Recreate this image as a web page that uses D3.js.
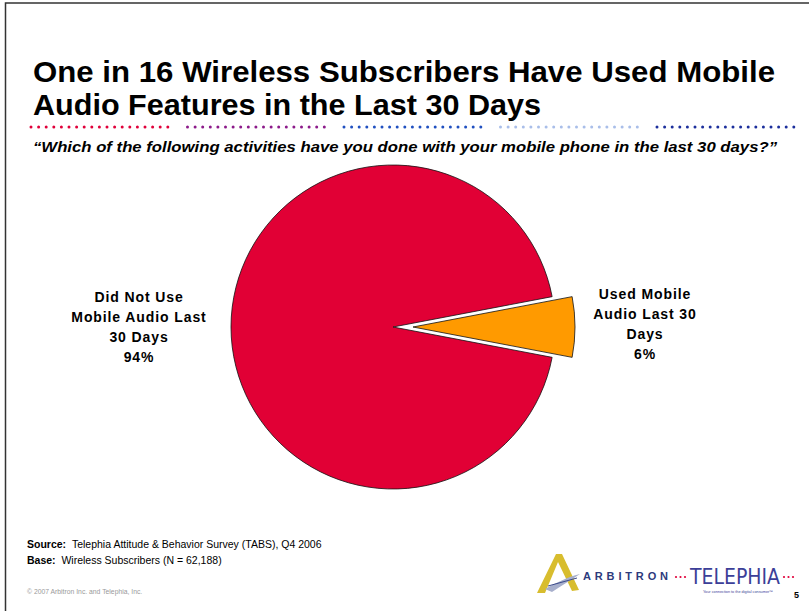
<!DOCTYPE html>
<html>
<head>
<meta charset="utf-8">
<script src="https://cdn.jsdelivr.net/npm/d3@7"></script>
<style>
  html, body { margin: 0; padding: 0; background: #fff; }
  svg { display: block; font-family: "Liberation Sans", Arial, sans-serif; }
</style>
</head>
<body>
<svg id="chart" width="809" height="611"></svg>
<script>
// Survey shares (percent of wireless subscribers)
const categories = ["Did Not Use Mobile Audio Last 30 Days", "Used Mobile Audio Last 30 Days"];
const values = [94, 6];
const sliceColors = ["#e10035", "#ff9a00"];
const labelLines = [
  ["Did Not Use", "Mobile Audio Last", "30 Days", "94%"],
  ["Used Mobile", "Audio Last 30", "Days", "6%"]
];
const titleLines = ["One in 16 Wireless Subscribers Have Used Mobile", "Audio Features in the Last 30 Days"];
const ruleColors = ["#e0003a", "#8c1a8a", "#2050c0", "#a9bee9", "#1c2f9c"];

const svg = d3.select("#chart");
const W = 809, H = 611;

svg.append("rect").attr("width", W).attr("height", H).attr("fill", "#fff");

// slide frame (left and top edges)
svg.append("path")
  .attr("d", `M5.5,${H} L5.5,3 L${W},3`)
  .attr("fill", "none").attr("stroke", "#333").attr("stroke-width", 1.5);

// title
const title = svg.append("g").attr("font-weight", "bold").attr("fill", "#000").attr("font-size", 29.5);
title.append("text").attr("x", 33).attr("y", 81.5)
  .attr("textLength", 742).attr("lengthAdjust", "spacingAndGlyphs")
  .text(titleLines[0]);
title.append("text").attr("x", 33).attr("y", 114.5)
  .attr("textLength", 508).attr("lengthAdjust", "spacingAndGlyphs")
  .text(titleLines[1]);

// dotted colour rule
const segW = 144, dotStep = 7.6;
ruleColors.forEach((c, i) => {
  const x0 = 31 + i * (segW + 12.5);
  const n = Math.floor(segW / dotStep) + 1;
  svg.append("g").selectAll("circle")
    .data(d3.range(n))
    .join("circle")
    .attr("cx", k => x0 + k * dotStep)
    .attr("cy", 127)
    .attr("r", 1.5)
    .attr("fill", c);
});

// question
svg.append("text")
  .attr("x", 33).attr("y", 152)
  .attr("font-size", 14).attr("font-weight", "bold").attr("font-style", "italic")
  .attr("textLength", 744).attr("lengthAdjust", "spacingAndGlyphs")
  .text("\u201CWhich of the following activities have you done with your mobile phone in the last 30 days?\u201D");

// pie
const cx = 393, cy = 327, R = 162, explode = 20;
const pie = d3.pie().sort(null).value(d => d)
  .startAngle(Math.PI / 2 + Math.PI * values[1] / 100)
  .endAngle(Math.PI / 2 + Math.PI * values[1] / 100 + 2 * Math.PI);
const arc = d3.arc().innerRadius(0).outerRadius(R);
const arcs = pie(values);

const pg = svg.append("g").attr("transform", `translate(${cx},${cy})`);
pg.selectAll("path")
  .data(arcs)
  .join("path")
  .attr("d", arc)
  .attr("fill", (d, i) => sliceColors[i])
  .attr("stroke", "#111")
  .attr("stroke-width", 0.8)
  .attr("transform", (d, i) => {
    if (i !== 1) return null;
    const a = (d.startAngle + d.endAngle) / 2;
    return `translate(${explode * Math.sin(a)},${-explode * Math.cos(a)})`;
  });

// slice labels
const labelPos = [[139, 302], [645, 299]];
labelLines.forEach((lines, i) => {
  const t = svg.append("text")
    .attr("text-anchor", "middle")
    .attr("font-size", 14).attr("font-weight", "bold")
    .attr("letter-spacing", 0.9)
    .attr("fill", "#000");
  lines.forEach((s, j) => {
    t.append("tspan").attr("x", labelPos[i][0]).attr("y", labelPos[i][1] + j * 20).text(s);
  });
});

// source notes
const notes = svg.append("g").attr("font-size", 10.5).attr("fill", "#000");
const s1 = notes.append("text").attr("x", 27).attr("y", 548);
s1.append("tspan").attr("font-weight", "bold").text("Source:");
s1.append("tspan").text("\u00A0\u00A0Telephia Attitude & Behavior Survey (TABS), Q4 2006");
const s2 = notes.append("text").attr("x", 27).attr("y", 564);
s2.append("tspan").attr("font-weight", "bold").text("Base:");
s2.append("tspan").text("\u00A0\u00A0Wireless Subscribers (N = 62,188)");

svg.append("text").attr("x", 27).attr("y", 594)
  .attr("font-size", 6.8).attr("fill", "#9a9a9a")
  .text("\u00A9 2007 Arbitron Inc. and Telephia, Inc.");

svg.append("text").attr("x", 799).attr("y", 598)
  .attr("text-anchor", "end").attr("font-size", 9).attr("font-weight", "bold")
  .text("5");

// Arbitron mark
const logo = svg.append("g");
logo.append("path")
  .attr("d", "M537,593 L556,554 L562,554 L579,590 L572,591 L558,562 L545,593 Z")
  .attr("fill", "#d8bd2e");
logo.append("path")
  .attr("d", "M545,589 C556,583 567,577 580,574 C571,580 561,586 552,592 Z")
  .attr("fill", "#a7afcc");
logo.append("path")
  .attr("d", "M548,586 L577,578")
  .attr("stroke", "#3b4a8a").attr("stroke-width", 1);
logo.append("text")
  .attr("x", 583).attr("y", 580)
  .attr("font-size", 11).attr("font-weight", "bold")
  .attr("textLength", 85).attr("lengthAdjust", "spacing")
  .attr("fill", "#2d3a7c")
  .text("ARBITRON");

// Telephia mark
logo.append("text")
  .attr("x", 690).attr("y", 584)
  .attr("font-size", 21).attr("font-family", "'DejaVu Sans Condensed', 'Liberation Sans Narrow', sans-serif")
  .attr("textLength", 90).attr("lengthAdjust", "spacingAndGlyphs")
  .attr("fill", "#3c3f98")
  .text("TELEPHIA");
[676, 680.5, 685, 784, 788.5, 793].forEach(x => {
  logo.append("circle").attr("cx", x).attr("cy", 577).attr("r", 1.1).attr("fill", "#e0003a");
});
logo.append("text")
  .attr("x", 738).attr("y", 593)
  .attr("text-anchor", "middle").attr("font-size", 3.8).attr("fill", "#3c3f98")
  .text("Your connection to the digital consumer\u2122");
</script>
</body>
</html>
